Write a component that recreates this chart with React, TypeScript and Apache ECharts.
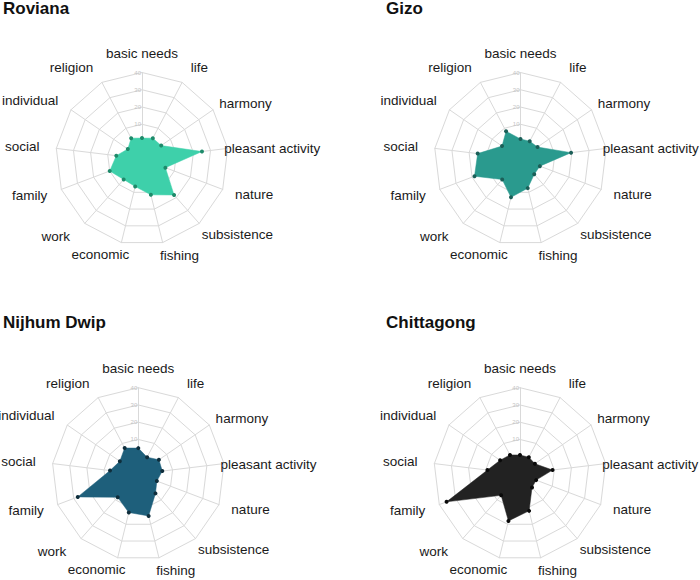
import React, { useEffect, useRef } from "react";
import * as echarts from "echarts";

// ---- data ----
const categories = [
  "basic needs",
  "life",
  "harmony",
  "pleasant activity",
  "nature",
  "subsistence",
  "fishing",
  "economic",
  "work",
  "family",
  "social",
  "individual",
  "religion",
];
const sites = ["Roviana", "Gizo", "Nijhum Dwip", "Chittagong"];
const roviana = [2, 3.5, 3.5, 25, 4.5, 18, 11.5, 6.5, 6, 10, 5, 0, 3.5];
const gizo = [1.5, 1.5, 2, 19.5, 2, 2, 7.5, 13, 6, 18.5, 15, 3, 8];
const nijhumDwip = [5, 1, 4.5, 4, 1.5, 5, 15, 13, 8, 27.5, 6.5, 3, 7];
const chittagong = [1, 1, 0.5, 9, 0, 0.5, 12, 18, 6.5, 35.5, 9, 4, 2.5];
const axisMin = -10;
const axisMax = 40;
const tickStep = 10;

// ---- style / layout ----
const fills = ["#3ED0AA", "#2A9A8E", "#1E5F7B", "#222222"];
const dots = ["#1E8A6A", "#1B5F58", "#0F2E3C", "#0A0A0A"];
const centers: [number, number][] = [
  [142, 158.8],
  [520.5, 158.8],
  [138.3, 474],
  [520, 474],
];
const titlePos: [number, number][] = [
  [3, 0],
  [386, 0],
  [3, 314],
  [386, 314],
];
// per-axis name gap and small extra [dx, dy] nudge of the axis name
const nameGaps = [12.4, 16.4, 11.3, -3.5, 14.3, 14.6, 13.6, 12.4, 17.2, 15.9, 16.9, 16.6, 16.4];
const nameShift: [number, number][] = [
  [0, 0],
  [1, 0.4],
  [-3, -4.4],
  [0, -1.5],
  [-1, 2.8],
  [-7.2, 6.4],
  [-5.9, 1.5],
  [10.9, 2.7],
  [-3.4, -3],
  [0.9, 2.3],
  [0, 1.9],
  [1, -1.4],
  [-1, 0.4],
];
const FONT = "'Liberation Sans', Arial, Helvetica, sans-serif";

const seriesData = [roviana, gizo, nijhumDwip, chittagong];

// ECharts places indicators counter-clockwise; the reference runs clockwise,
// so keep the first axis on top and reverse the rest.
const order = [0, ...categories.map((_, i) => i).slice(1).reverse()];

function paddingFor(i: number): number[] {
  const [dx, dy] = nameShift[i];
  const top = dy > 0 ? 2 * dy : 0;
  const bottom = dy < 0 ? -2 * dy : 0;
  if (i === 0) {
    // centered label
    return [0, dx < 0 ? -2 * dx : 0, 0, dx > 0 ? 2 * dx : 0];
  }
  const n = categories.length;
  const rightSide = i < n / 2; // left-aligned labels
  if (rightSide) return [top, 0, bottom, dx];
  return [top, -dx, bottom, 0];
}

export default function App() {
  const ref = useRef<HTMLDivElement>(null);
  useEffect(() => {
    document.body.style.margin = "0";
    if (!ref.current) return;
    const chart = echarts.init(ref.current, undefined, { renderer: "svg" });

    const radars = centers.map((c) => ({
      center: c,
      radius: 86.3,
      startAngle: 90,
      shape: "polygon",
      splitNumber: (axisMax - axisMin) / tickStep,
      nameGap: 14,
      axisName: { color: "#1a1a1a", fontSize: 13.5, fontFamily: FONT },
      indicator: order.map((i) => {
        const ind: any = {
          name: categories[i],
          min: axisMin,
          max: axisMax,
          nameGap: nameGaps[i],
          nameTextStyle: { padding: paddingFor(i) },
        };
        if (i === 0) ind.axisLabel = { show: true };
        return ind;
      }),
      axisLine: { show: true, lineStyle: { color: "#d9d9d9", width: 1 } },
      axisTick: { show: false },
      axisLabel: {
        show: false,
        fontSize: 6,
        color: "#c4c4c4",
        margin: 1,
        fontFamily: FONT,
        formatter: (v: number) => (v > 0 ? String(v) : ""),
      },
      splitLine: { show: true, lineStyle: { color: "#d9d9d9", width: 1 } },
      splitArea: { show: false },
    }));

    const series = seriesData.map((vals, k) => ({
      type: "radar",
      radarIndex: k,
      name: sites[k],
      symbol: "circle",
      symbolSize: 4,
      itemStyle: { color: dots[k] },
      lineStyle: { color: fills[k], width: 0.5 },
      areaStyle: { color: fills[k], opacity: 1 },
      data: [{ value: order.map((i) => vals[i]), name: sites[k] }],
    }));

    chart.setOption({
      animation: false,
      backgroundColor: "#ffffff",
      title: sites.map((s, k) => ({
        text: s,
        left: titlePos[k][0],
        top: titlePos[k][1],
        padding: 0,
        textStyle: { fontSize: 17, fontWeight: "bold", color: "#111111", fontFamily: FONT },
      })),
      radar: radars,
      series,
    });
    return () => chart.dispose();
  }, []);
  return <div ref={ref} style={{ width: 700, height: 580 }} />;
}
